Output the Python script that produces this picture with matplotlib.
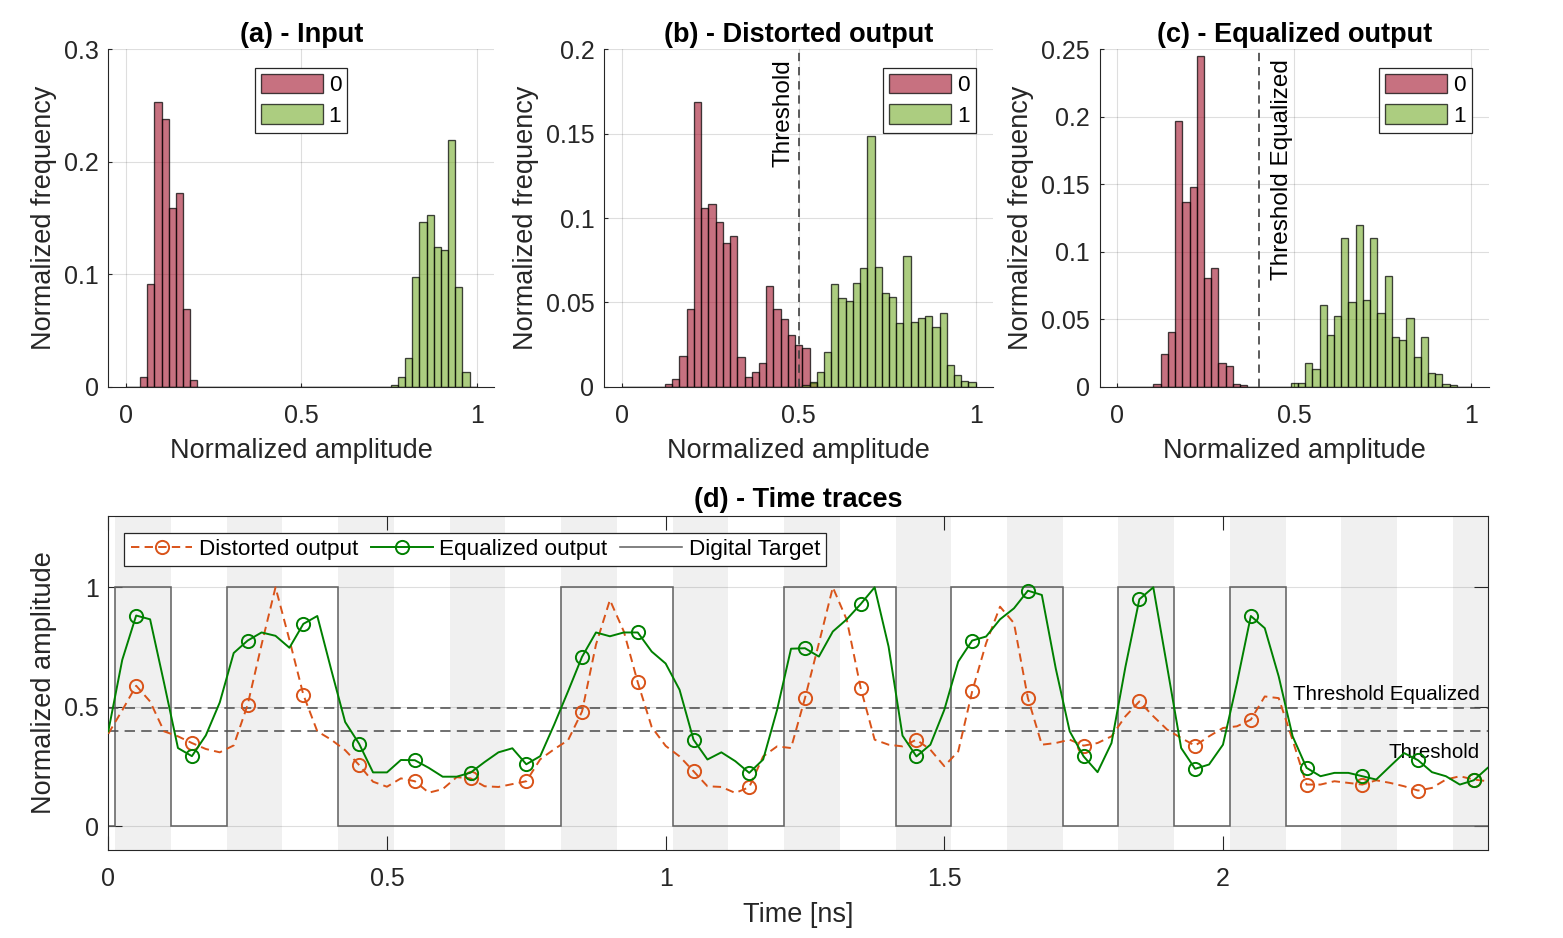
import numpy as np
import matplotlib
matplotlib.use('Agg')
import matplotlib.pyplot as plt
from matplotlib.transforms import blended_transform_factory

plt.rcParams['font.family'] = ['Liberation Sans', 'DejaVu Sans']

# ---------------- data ----------------
n_bins = 49
hist_edges = np.linspace(0, 1, n_bins + 1)

# panel (a) - input (first bin index, then normalized frequencies)
input_bit0_start = 2
input_bit0 = [0.009, 0.091, 0.253, 0.238, 0.159, 0.172, 0.069, 0.006]
input_bit1_start = 37
input_bit1 = [0.0012, 0.0083, 0.0252, 0.0976, 0.146, 0.1525, 0.1246, 0.1214, 0.219, 0.0887, 0.013]

# panel (b) - distorted output
dist_bit0_start = 6
dist_bit0 = [0.0018, 0.0046, 0.018, 0.0459, 0.1687, 0.1061, 0.1083, 0.0978, 0.085, 0.0891,
             0.0176, 0.0055, 0.0085, 0.0139, 0.0594, 0.0459, 0.040, 0.0305, 0.0246, 0.023, 0.002]
dist_bit1_start = 25
dist_bit1 = [0.001, 0.003, 0.0089, 0.0208, 0.0608, 0.0525, 0.0507, 0.0612, 0.0701, 0.1487,
             0.0707, 0.0558, 0.0531, 0.038, 0.0772, 0.0382, 0.0408, 0.0422, 0.0354, 0.0436,
             0.0127, 0.0069, 0.0032, 0.0026]

# panel (c) - equalized output
eq_bit0_start = 5
eq_bit0 = [0.0017, 0.024, 0.0408, 0.197, 0.1366, 0.1483, 0.2453, 0.0809, 0.0876, 0.0176,
           0.0156, 0.0017, 0.001]
eq_bit1_start = 24
eq_bit1 = [0.0025, 0.0025, 0.0173, 0.0134, 0.0606, 0.0381, 0.0525, 0.1099, 0.0631, 0.1196,
           0.0646, 0.1104, 0.0545, 0.0822, 0.0366, 0.0347, 0.0507, 0.0218, 0.0369, 0.0101,
           0.0094, 0.002, 0.0012]

threshold_dist = 0.5
threshold_eq = 0.4

# panel (d) - time traces, one sample every 0.025 ns
dt = 0.025
distorted = [0.387, 0.485, 0.588, 0.522, 0.397, 0.376, 0.348, 0.323, 0.309, 0.338,
             0.508, 0.760, 1.000, 0.780, 0.550, 0.397, 0.362, 0.318, 0.256, 0.186,
             0.165, 0.200, 0.188, 0.140, 0.155, 0.205, 0.200, 0.167, 0.164, 0.176,
             0.188, 0.280, 0.322, 0.360, 0.480, 0.760, 0.947, 0.815, 0.602, 0.415,
             0.336, 0.292, 0.230, 0.167, 0.164, 0.139, 0.163, 0.292, 0.334, 0.327,
             0.536, 0.766, 1.000, 0.864, 0.578, 0.362, 0.341, 0.334, 0.362, 0.320,
             0.251, 0.313, 0.564, 0.766, 0.919, 0.850, 0.536, 0.341, 0.348, 0.362,
             0.337, 0.348, 0.376, 0.460, 0.522, 0.460, 0.404, 0.369, 0.337, 0.376,
             0.411, 0.418, 0.446, 0.543, 0.536, 0.360, 0.174, 0.174, 0.188, 0.181,
             0.174, 0.192, 0.181, 0.167, 0.149, 0.160, 0.195, 0.209, 0.195, 0.188]
equalized = [0.397, 0.696, 0.882, 0.866, 0.600, 0.327, 0.293, 0.380, 0.518, 0.725,
             0.777, 0.811, 0.797, 0.747, 0.847, 0.880, 0.655, 0.436, 0.345, 0.225,
             0.225, 0.277, 0.276, 0.244, 0.207, 0.207, 0.224, 0.268, 0.309, 0.326,
             0.259, 0.293, 0.425, 0.565, 0.709, 0.811, 0.795, 0.811, 0.811, 0.731,
             0.681, 0.571, 0.362, 0.279, 0.309, 0.272, 0.223, 0.279, 0.487, 0.743,
             0.745, 0.710, 0.815, 0.866, 0.930, 1.000, 0.752, 0.379, 0.292, 0.341,
             0.487, 0.689, 0.777, 0.794, 0.866, 0.912, 0.986, 0.968, 0.660, 0.397,
             0.292, 0.226, 0.348, 0.667, 0.950, 1.000, 0.665, 0.327, 0.240, 0.258,
             0.341, 0.599, 0.880, 0.829, 0.627, 0.376, 0.244, 0.209, 0.223, 0.223,
             0.209, 0.195, 0.251, 0.306, 0.276, 0.226, 0.209, 0.174, 0.192, 0.244]
symbol_period = 0.1
symbol_start = 0.0125
target_bits = [1, 0, 1, 1, 0, 0, 0, 0, 1, 1, 0, 0, 1, 1, 0, 1, 1, 0, 1, 0, 1, 0, 0, 0, 0]
trace_threshold_eq = 0.493
trace_threshold = 0.397

# ---------------- styling ----------------
W, H = 1563, 938
fig = plt.figure(figsize=(W / 100, H / 100), dpi=100)
AX_COLOR = '#262626'
RED = (0.64, 0.07, 0.17, 0.6)
GREEN = (0.464, 0.673, 0.17, 0.6)
EDGE = (0, 0, 0, 0.72)
TICK_FS = 18
LABEL_FS = 19.5
LEG_FS = 16.2


def fig_axes(left, top, width, height):
    return fig.add_axes([left / W, 1 - (top + height) / H, width / W, height / H])


def expand(start, vals):
    arr = np.zeros(n_bins)
    arr[start:start + len(vals)] = vals
    return arr


def hist_panel(ax, start0, v0, start1, v1, ylim, yticks, yticklabels, title, leg_loc, leg_anchor):
    w = hist_edges[1] - hist_edges[0]
    ax.bar(hist_edges[:-1], expand(start0, v0), width=w, align='edge', color=RED,
           edgecolor=EDGE, linewidth=0.95, label='0', zorder=2)
    ax.bar(hist_edges[:-1], expand(start1, v1), width=w, align='edge', color=GREEN,
           edgecolor=EDGE, linewidth=0.95, label='1', zorder=2)
    ax.set_xlim(-0.05, 1.05)
    ax.set_ylim(*ylim)
    ax.set_xticks([0, 0.5, 1])
    ax.set_xticklabels(['0', '0.5', '1'])
    ax.set_yticks(yticks)
    ax.set_yticklabels(yticklabels)
    for s in ['top', 'right']:
        ax.spines[s].set_visible(False)
    for s in ['left', 'bottom']:
        ax.spines[s].set_color(AX_COLOR)
        ax.spines[s].set_linewidth(0.8)
    ax.tick_params(direction='in', length=2.8, width=0.8, colors=AX_COLOR,
                   labelsize=TICK_FS)
    ax.tick_params(axis='x', pad=12.5)
    ax.tick_params(axis='y', pad=7)
    ax.set_axisbelow(True)
    ax.grid(True, color=AX_COLOR, alpha=0.15, linewidth=0.8)
    ax.set_xlabel('Normalized amplitude', fontsize=LABEL_FS, color=AX_COLOR, labelpad=7.5)
    ax.set_ylabel('Normalized frequency', fontsize=LABEL_FS, color=AX_COLOR, labelpad=5)
    ax.set_title(title, fontsize=LABEL_FS, fontweight='bold', pad=5.5)
    leg = ax.legend(loc=leg_loc, bbox_to_anchor=leg_anchor, borderaxespad=0,
                    fontsize=LEG_FS, handlelength=2.75, handleheight=0.95,
                    handletextpad=0.25, borderpad=0.27, labelspacing=0.36,
                    fancybox=False, framealpha=1, edgecolor=AX_COLOR)
    leg.get_frame().set_linewidth(0.9)
    return ax


ax_a = fig_axes(108.3, 49.3, 386, 337.4)
hist_panel(ax_a, input_bit0_start, input_bit0, input_bit1_start, input_bit1,
           (0, 0.3), [0, 0.1, 0.2, 0.3], ['0', '0.1', '0.2', '0.3'],
           '(a) - Input', 'upper center', (0.5, 0.945))

ax_b = fig_axes(604, 49.3, 389.4, 337.4)
hist_panel(ax_b, dist_bit0_start, dist_bit0, dist_bit1_start, dist_bit1,
           (0, 0.2), [0, 0.05, 0.1, 0.15, 0.2], ['0', '0.05', '0.1', '0.15', '0.2'],
           '(b) - Distorted output', 'upper right', (0.9545, 0.945))
ax_b.axvline(threshold_dist, color='#404040', lw=1.2, ls=(0, (5, 3.5)), zorder=3)
ax_b.annotate('Threshold', xy=(threshold_dist, 1),
              xycoords=blended_transform_factory(ax_b.transData, ax_b.transAxes),
              xytext=(-3, -7), textcoords='offset points', rotation=90,
              ha='right', va='top', fontsize=17.5, color='black')

ax_c = fig_axes(1099.6, 49.3, 389.4, 337.4)
hist_panel(ax_c, eq_bit0_start, eq_bit0, eq_bit1_start, eq_bit1,
           (0, 0.25), [0, 0.05, 0.1, 0.15, 0.2, 0.25],
           ['0', '0.05', '0.1', '0.15', '0.2', '0.25'],
           '(c) - Equalized output', 'upper right', (0.9555, 0.945))
ax_c.axvline(threshold_eq, color='#404040', lw=1.2, ls=(0, (5, 3.5)), zorder=3)
ax_c.annotate('Threshold Equalized', xy=(threshold_eq, 1),
              xycoords=blended_transform_factory(ax_c.transData, ax_c.transAxes),
              xytext=(8.5, -7), textcoords='offset points', rotation=90,
              ha='left', va='top', fontsize=17.5, color='black')

# ---------------- panel (d) ----------------
ax_d = fig_axes(108.3, 515.7, 1379.4, 334.3)
t = np.arange(len(distorted)) * dt
t_end = t[-1]
slot_edges = symbol_start + symbol_period * np.arange(len(target_bits) + 1)

for k in range(0, len(target_bits), 2):
    ax_d.axvspan(slot_edges[k], min(slot_edges[k + 1], t_end), color='#f0f0f0', lw=0, zorder=0)

ax_d.set_axisbelow(True)
ax_d.yaxis.grid(True, color=AX_COLOR, alpha=0.15, linewidth=0.8)

stair_edges = np.concatenate([[0.0], slot_edges])
stair_vals = np.concatenate([[0], target_bits])
ax_d.stairs(stair_vals, stair_edges, baseline=None, color='#646464', lw=1.15,
            zorder=2, label='Digital Target')

ax_d.axhline(trace_threshold_eq, color='#505050', lw=1.15, ls=(0, (6.5, 3.9)), zorder=2.5)
ax_d.axhline(trace_threshold, color='#505050', lw=1.15, ls=(0, (6.5, 3.9)), zorder=2.5)

l_dist, = ax_d.plot(t, distorted, color='#D95319', lw=1.4, ls=(0, (4.3, 2.7)),
                    marker='o', markevery=(2, 4), ms=9.5, mfc='none', mew=1.4,
                    label='Distorted output', zorder=3)
l_eq, = ax_d.plot(t, equalized, color='#008000', lw=1.4, ls='-',
                  marker='o', markevery=(2, 4), ms=9.5, mfc='none', mew=1.4,
                  label='Equalized output', zorder=4)

ax_d.annotate('Threshold Equalized', xy=(1, trace_threshold_eq),
              xycoords=blended_transform_factory(ax_d.transAxes, ax_d.transData),
              xytext=(-6, 3), textcoords='offset points', ha='right', va='bottom',
              fontsize=14.8, color='black')
ax_d.annotate('Threshold', xy=(1, trace_threshold),
              xycoords=blended_transform_factory(ax_d.transAxes, ax_d.transData),
              xytext=(-6, -8.4), textcoords='offset points', ha='right', va='top',
              fontsize=14.8, color='black')

ax_d.set_xlim(0, t_end)
ax_d.set_ylim(-0.1, 1.3)
ax_d.set_xticks([0, 0.5, 1, 1.5, 2])
ax_d.set_xticklabels(['0', '0.5', '1', '1.5', '2'])
ax_d.set_yticks([0, 0.5, 1])
ax_d.set_yticklabels(['0', '0.5', '1'])
for s in ax_d.spines.values():
    s.set_color(AX_COLOR)
    s.set_linewidth(0.8)
ax_d.tick_params(direction='in', length=9.9, width=0.8, colors=AX_COLOR,
                 labelsize=TICK_FS, top=True, right=True)
ax_d.tick_params(axis='x', pad=12.5)
ax_d.tick_params(axis='y', pad=7)
ax_d.set_xlabel('Time [ns]', fontsize=LABEL_FS, color=AX_COLOR, labelpad=7.5)
ax_d.set_ylabel('Normalized amplitude', fontsize=LABEL_FS, color=AX_COLOR, labelpad=5)
ax_d.set_title('(d) - Time traces', fontsize=LABEL_FS, fontweight='bold', pad=6.5)

h_all, lab_all = ax_d.get_legend_handles_labels()
order = [lab_all.index('Distorted output'), lab_all.index('Equalized output'),
         lab_all.index('Digital Target')]
leg = ax_d.legend([h_all[i] for i in order], [lab_all[i] for i in order],
                  loc='upper left', bbox_to_anchor=(0.0116, 0.949), borderaxespad=0,
                  ncol=3, fontsize=LEG_FS, handlelength=2.75, handletextpad=0.3,
                  columnspacing=0.55, borderpad=0.28, fancybox=False, framealpha=1,
                  edgecolor=AX_COLOR)
leg.get_frame().set_linewidth(0.9)

fig.savefig('out.png', dpi=100)
